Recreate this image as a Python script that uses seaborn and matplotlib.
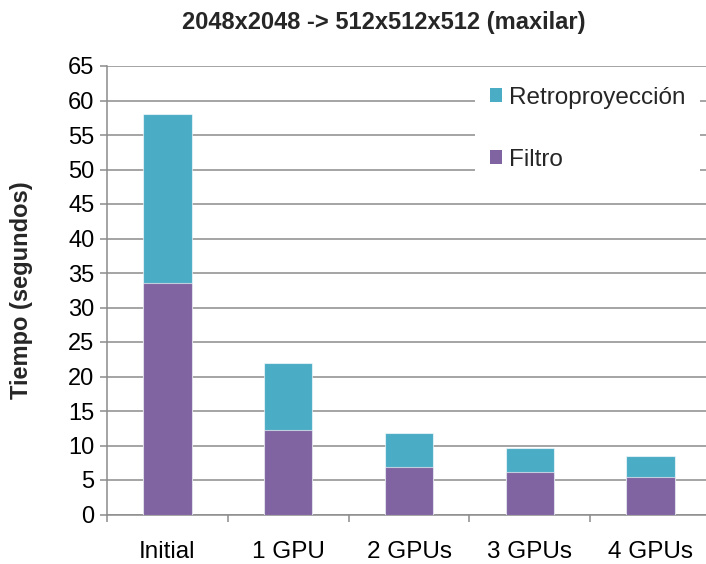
import matplotlib
matplotlib.use("Agg")
import matplotlib.pyplot as plt
import seaborn as sns
import pandas as pd
import numpy as np

# Reconstruction times (seconds) per configuration
categories = ["Initial", "1 GPU", "2 GPUs", "3 GPUs", "4 GPUs"]
filtro = [33.6, 12.25, 6.9, 6.2, 5.45]
retroproyeccion = [24.4, 9.75, 4.95, 3.5, 3.1]
y_ticks = list(range(0, 70, 5))

title = "2048x2048 -> 512x512x512 (maxilar)"
y_label = "Tiempo (segundos)"

teal = "#4BACC6"
purple = "#8064A2"
grid_gray = "#8C8C8C"

sns.set_theme(style="white")
plt.rcParams["font.family"] = ["Liberation Sans", "DejaVu Sans"]

df = pd.DataFrame({
    "config": categories,
    "Filtro": filtro,
    "Retroproyección": retroproyeccion,
})
df["total"] = df["Filtro"] + df["Retroproyección"]

fig = plt.figure(figsize=(7.06, 5.64), dpi=100)
ax = fig.add_axes([107 / 706, 1 - 514.5 / 564, 604 / 706, 448.5 / 564])

# Stacked bars: full height in teal, lower segment in purple on top
sns.barplot(data=df, x="config", y="total", color=teal, width=0.4,
            label="Retroproyección", ax=ax, edgecolor=(1, 1, 1, 0.6),
            linewidth=0.8, saturation=1, zorder=3)
sns.barplot(data=df, x="config", y="Filtro", color=purple, width=0.4,
            label="Filtro", ax=ax, edgecolor=(1, 1, 1, 0.6),
            linewidth=0.8, saturation=1, zorder=3)
if ax.get_legend() is not None:
    ax.get_legend().remove()

ax.set_xlim(-0.5, len(categories) - 0.5)
ax.set_ylim(0, 65)
ax.set_yticks(y_ticks)
ax.set_yticklabels([str(v) for v in y_ticks])
ax.yaxis.grid(True, color=grid_gray, linewidth=1.1, zorder=0)
ax.set_axisbelow(True)

# Category labels at bar centres, tick marks at category boundaries
ax.set_xticks(np.arange(-0.5, len(categories), 1.0))
ax.set_xticklabels([])
ax.set_xticks(np.arange(len(categories)), minor=True)
ax.set_xticklabels(categories, minor=True)
ax.tick_params(axis="x", which="major", bottom=True, length=5, width=1.1,
               color=grid_gray, direction="out")
ax.tick_params(axis="x", which="minor", bottom=False, length=0, pad=19,
               labelsize=17.5, labelcolor="black")
ax.tick_params(axis="y", left=True, length=5, width=1.1, color=grid_gray,
               direction="out", pad=4, labelsize=17, labelcolor="black")

for side in ["top", "right"]:
    ax.spines[side].set_visible(False)
for side in ["left", "bottom"]:
    ax.spines[side].set_color(grid_gray)
    ax.spines[side].set_linewidth(1.1)

ax.set_xlabel("")
ax.set_ylabel(y_label, fontsize=17, fontweight="bold")
ax.yaxis.set_label_coords(-74 / 604, 0.5)

fig.text(384 / 706, 1 - 22 / 564, title, ha="center", va="center",
         fontsize=17, fontweight="bold")

handles, labels = ax.get_legend_handles_labels()
order = [labels.index("Retroproyección"), labels.index("Filtro")]
leg = fig.legend([handles[i] for i in order], [labels[i] for i in order],
                 loc="upper left", bbox_to_anchor=(475 / 706, 1 - 72 / 564),
                 frameon=True, facecolor="white", edgecolor="none",
                 framealpha=1, fontsize=17.5, handlelength=0.5,
                 handleheight=0.5, handletextpad=0.3, labelspacing=1.65,
                 borderpad=0.6, borderaxespad=0, fancybox=False)
for h in leg.legend_handles:
    h.set_edgecolor("none")

fig.savefig("out.png", dpi=100)
